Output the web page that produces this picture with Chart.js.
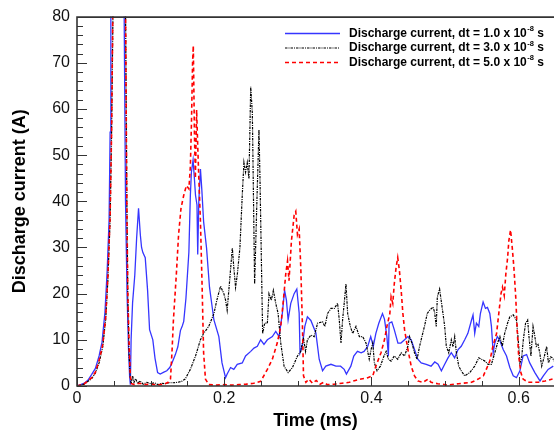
<!DOCTYPE html>
<html>
<head>
<meta charset="utf-8">
<script src="https://cdn.jsdelivr.net/npm/chart.js@4/dist/chart.umd.min.js"></script>
<style>
html,body{margin:0;padding:0;background:#fff;}
canvas{display:block;}
</style>
</head>
<body>
<canvas id="c" width="554" height="434"></canvas>
<script>
// ---- data: [time (ms), current (A)] ----
const seriesLabels = ["1.0", "3.0", "5.0"];
const xTickValues = [0, 0.2, 0.4, 0.6];
const xTickLabels = ["0", "0.2", "0.4", "0.6"];
const yTickValues = [0, 10, 20, 30, 40, 50, 60, 70, 80];

const blueData = [
[0,0],[0.005,0.3],[0.01,0.6],[0.015,1.3],[0.02,2.5],[0.025,3.8],[0.03,6.5],[0.034,9.5],[0.038,16],[0.041,25],[0.0436,36],[0.045,55],[0.046,80],[0.048,120],[0.055,300],[0.062,120],[0.0641,80],[0.0659,40],[0.068,20],[0.070,8],[0.0715,2],[0.0725,0.3],
[0.0735,10],[0.0755,18],[0.0785,24],[0.081,32],[0.0836,38.5],[0.086,32.8],[0.0877,30],[0.0895,28.9],[0.0927,27.8],[0.0959,20.7],[0.0986,12.2],[0.103,10],[0.106,6],[0.1095,2.9],[0.113,2.6],[0.118,3],[0.122,3.3],[0.126,4],[0.129,5],[0.1336,6.8],[0.137,8.5],[0.1405,12],[0.143,13],[0.145,14],[0.148,19],[0.152,29],[0.154,41.3],[0.1554,46.3],[0.1577,49],[0.1595,44.9],[0.161,41.3],[0.163,39.2],[0.164,28.5],[0.1655,40],[0.1677,47],[0.1695,42.7],[0.172,35.6],[0.176,29.9],[0.180,21.4],[0.186,14.3],[0.1927,10.7],[0.197,5],[0.2018,1.8],
[0.204,2.6],[0.2086,4],[0.213,3.6],[0.2177,4.7],[0.2245,5],[0.229,6.5],[0.236,7.5],[0.2404,8.2],[0.245,8.6],[0.2495,10],[0.254,9],[0.2586,10],[0.2654,10.7],[0.27,11.8],[0.2745,10.7],[0.279,15.8],[0.282,20.7],[0.2845,18.6],[0.2868,14.3],[0.2904,17.9],[0.295,20],[0.2986,21],[0.3018,15.8],[0.303,7.2],[0.306,8.6],[0.3095,12.9],[0.313,15],[0.3177,14.2],[0.3245,11.5],[0.329,5.8],[0.3336,3.3],[0.338,4.3],[0.345,4.7],[0.3517,4.3],[0.358,4.3],[0.363,3.6],[0.366,2.6],[0.372,4.3],[0.376,6.5],[0.381,7.5],[0.386,7.2],[0.39,7.5],[0.395,8.6],[0.399,10.7],[0.4025,8.6],[0.406,11.4],[0.41,13.6],[0.415,15.7],[0.4177,14.5],[0.421,10.7],[0.423,6.5],[0.424,13.6],[0.4277,13.9],[0.431,12.2],[0.436,9.3],[0.44,9.3],[0.445,10],[0.4495,10.7],[0.454,10],[0.4585,7.9],[0.463,5.8],[0.4676,5],[0.4744,4.7],[0.481,4.3],
[0.486,5.2],[0.4905,4.7],[0.495,3.3],[0.4995,4.7],[0.504,6.1],[0.5085,7.2],[0.513,6.1],[0.5177,7.9],[0.522,8.6],[0.5267,10],[0.531,11.4],[0.536,14.3],[0.538,15.4],[0.5403,11.4],[0.5426,13.6],[0.5458,12.9],[0.548,15.7],[0.5517,18.2],[0.5549,16.8],[0.5576,17],[0.5608,15.7],[0.563,12.9],[0.5654,7.2],[0.5676,9.3],[0.571,10.7],[0.574,10],[0.579,7.9],[0.5835,6.5],[0.588,4],[0.5926,2.2],[0.597,1.8],[0.6017,3.3],[0.606,6.5],[0.6108,6.8],[0.615,5],[0.622,2.9],[0.629,1.1],[0.6335,2.2],[0.640,3.6],[0.647,4.3]
];

const blackData = [
[0,0],[0.01,0.4],[0.02,1.6],[0.025,2.8],[0.03,5],[0.035,8.5],[0.039,14.5],[0.042,23],[0.045,36],[0.047,55],[0.0488,80],[0.051,120],[0.057,300],[0.064,120],[0.066,80],[0.0677,40],[0.069,20],[0.0705,8],[0.072,2.5],[0.0735,0.5],
[0.0755,2.2],[0.0775,0.8],[0.0795,1.6],[0.0825,0.5],[0.0855,1.1],[0.09,0.4],[0.095,0.8],[0.1,0.5],[0.105,0.7],[0.11,0.3],[0.115,0.6],[0.12,0.5],[0.125,0.7],[0.131,0.7],[0.137,0.8],[0.142,1.0],[0.147,1.5],[0.154,3.6],[0.161,6.5],[0.1677,10],[0.172,11.4],[0.179,12.9],[0.186,15.7],[0.19,18.6],[0.195,21.6],[0.1995,20],[0.2018,18.6],[0.204,16.4],[0.2077,23.5],[0.211,29.9],[0.213,25.7],[0.2154,21.4],[0.2177,24],[0.2213,29.9],[0.2245,41.3],[0.2268,48.4],[0.229,46.3],[0.2313,48.4],[0.2336,44.9],[0.236,64.8],[0.2382,59.1],[0.2397,41.3],[0.2413,22.1],[0.244,37.8],[0.2472,55.5],[0.2486,44.9],[0.2505,27.1],[0.2522,11.4],[0.255,13.6],[0.2586,13.6],[0.2608,20],[0.264,18.6],[0.2668,20.7],[0.27,17.9],[0.2732,15.7],[0.2768,9.3],[0.2813,4.3],[0.2868,2.9],[0.2927,4],[0.2995,6.5],[0.304,7.5],
[0.3075,10.5],[0.3105,7.5],[0.313,10],[0.3177,11],[0.3222,10.7],[0.3268,13.6],[0.3336,13.9],[0.3368,12.9],[0.3404,15.7],[0.345,16.8],[0.3495,16.8],[0.354,17.9],[0.3563,14.3],[0.3586,9.3],[0.3608,14.3],[0.363,17.9],[0.3654,22.1],[0.3677,15.7],[0.3713,12.9],[0.3745,11.4],[0.379,12.9],[0.3836,10.7],[0.3881,10.7],[0.3926,9.3],[0.397,5.8],[0.3995,7.9],[0.4018,9.3],[0.404,5],[0.4076,3.3],[0.4122,4.3],[0.417,6.5],[0.42,7.5],[0.4231,5.8],[0.4267,5.4],[0.431,6.5],[0.4357,5.8],[0.4404,7.2],[0.445,6.5],[0.4495,8.6],[0.4517,10.7],[0.455,9.3],[0.4585,7.2],[0.462,5.8],[0.4654,8.6],[0.4686,10.7],[0.472,12.9],[0.4758,15.7],[0.479,16.4],[0.4836,17.1],[0.4858,16],[0.488,12.9],[0.4895,19.3],[0.4926,21],[0.495,18.2],[0.4972,15.7],[0.4995,12.9],[0.5017,8.6],[0.505,7.2],[0.5085,10],[0.5108,8.5],[0.5131,10.7],[0.5154,7.2],[0.5186,4.3],[0.522,3.3],[0.5267,2.2],[0.5335,2.9],[0.5403,4.3],[0.5458,6.1],[0.5495,5.8],[0.554,5.4],[0.5585,4.7],[0.563,4.7],[0.5676,7.2],[0.5713,9.3],[0.5745,10.7],[0.5777,8.6],[0.581,11.4],[0.5849,13.6],[0.588,15],[0.5926,15.4],[0.597,14.3],[0.5994,10],[0.6017,5],[0.604,6],[0.6063,10],[0.6094,13.6],[0.6122,14.3],[0.614,10.7],[0.6167,6.5],[0.6195,12.9],[0.6217,11],[0.624,8.6],[0.6263,9],[0.6286,7.2],[0.6313,4.3],[0.635,6.5],[0.638,8.6],[0.6404,5],[0.6435,6.3],[0.6458,6.1],[0.65,5]
];

const redData = [
[0,0],[0.01,0.5],[0.02,1.8],[0.025,3],[0.03,5.5],[0.035,9],[0.039,15],[0.042,24],[0.045,37],[0.047,55],[0.0486,80],[0.051,120],[0.057,300],[0.064,120],[0.066,80],[0.0677,40],[0.069,20],[0.071,8],[0.0725,2],[0.074,0.5],
[0.078,0.3],[0.085,0.6],[0.092,0.3],[0.1,0.4],[0.11,0.2],[0.118,0.4],[0.124,0.8],[0.127,1.5],[0.129,7.2],[0.131,14.3],[0.135,24.3],[0.138,32.8],[0.1413,38.5],[0.145,41.3],[0.1486,43.4],[0.152,42.7],[0.154,47.5],[0.1555,57],[0.157,70],[0.158,73.7],[0.1595,55],[0.1608,45],[0.1625,59.8],[0.164,52],[0.1655,45],[0.1677,35.6],[0.17,21.4],[0.172,7.2],[0.1745,1.5],[0.179,0.3],[0.19,0.2],[0.2,0.3],[0.21,0.2],[0.22,0.3],[0.23,0.4],[0.24,0.6],[0.2495,1],[0.2586,3.6],[0.2654,5.8],[0.272,9.3],[0.2768,12.9],[0.2804,18.6],[0.2836,24.3],[0.286,27.1],[0.288,22.8],[0.2913,31.4],[0.295,37],[0.2972,37.8],[0.2995,32.8],[0.3018,34],[0.304,25.7],[0.3063,12.9],[0.3077,2.2],[0.311,0.8],[0.315,1.5],[0.32,0.6],[0.325,1.2],[0.33,0.4],[0.335,0.8],[0.34,0.3],[0.35,0.4],[0.36,0.6],[0.37,0.8],[0.378,1.2],[0.386,1.5],[0.395,1.8],[0.4018,2.2],[0.406,4.3],[0.413,7.2],[0.4177,10],[0.421,12.9],[0.423,14.3],[0.425,15.7],[0.4267,19.3],[0.429,17.9],[0.431,22.1],[0.4335,25.7],[0.4357,27.8],[0.438,25],[0.4404,20.7],[0.4427,15.7],[0.445,12.2],[0.4495,7.9],[0.454,4.3],[0.4585,2.2],[0.463,1.1],[0.47,0.8],[0.477,1.5],[0.481,0.8],[0.49,0.5],[0.504,0.2],[0.518,0.5],[0.536,0.8],[0.545,1.5],[0.552,2.2],[0.556,3.6],[0.5608,5.4],[0.565,8.6],[0.57,11.4],[0.573,15.7],[0.576,20],[0.578,21.4],[0.5804,19.6],[0.5826,24.3],[0.585,27.8],[0.5866,31.4],[0.589,33.8],[0.5913,29.9],[0.5935,25.7],[0.596,19.3],[0.598,12.2],[0.600,6.5],[0.603,2.9],[0.606,1.5],[0.613,0.8],[0.627,0.8],[0.636,1.1],[0.646,1.5]
];

const toXY = arr => arr.map(p => ({x: p[0], y: p[1]}));
const FONT = '"Liberation Sans", Arial, Helvetica, sans-serif';

const styles = [
  {color: '#3535ff', dash: [], width: 1.3},
  {color: '#000000', dash: [2.5, 1, 1, 1], width: 1.2},
  {color: '#ff0000', dash: [4, 3], width: 1.6}
];

const framePlugin = {
  id: 'frame',
  afterDatasetsDraw(chart) {
    const {ctx, chartArea: a, scales: {x, y}} = chart;
    ctx.save();
    ctx.strokeStyle = '#333';
    ctx.lineWidth = 1;
    ctx.setLineDash([]);
    // x ticks (inward)
    for (let k = 0; k * 0.05 <= 0.648 + 1e-9; k++) {
      const v = k * 0.05;
      const px = Math.round(x.getPixelForValue(v)) + 0.5;
      const len = (k % 4 === 0) ? 9 : 5;
      ctx.beginPath(); ctx.moveTo(px, a.bottom); ctx.lineTo(px, a.bottom - len); ctx.stroke();
    }
    // y ticks (inward)
    for (let k = 0; k <= 40; k++) {
      const v = k * 2;
      const py = Math.round(y.getPixelForValue(v)) + 0.5;
      const len = (k % 5 === 0) ? 10 : 6;
      ctx.beginPath(); ctx.moveTo(a.left, py); ctx.lineTo(a.left + len, py); ctx.stroke();
    }
    // axes and top frame line
    ctx.lineWidth = 1.6;
    ctx.strokeStyle = '#333';
    ctx.beginPath();
    ctx.moveTo(a.right, a.top + 0.5); ctx.lineTo(a.left, a.top + 0.5);
    ctx.lineTo(a.left, a.bottom); ctx.lineTo(a.right, a.bottom);
    ctx.stroke();
    ctx.restore();
  },
  afterDraw(chart) {
    const ctx = chart.ctx;
    ctx.save();
    const x0 = 285, x1 = 340, tx = 349;
    const rows = [33.5, 48, 62.5];
    chart.data.datasets.forEach((ds, i) => {
      const yy = rows[i];
      ctx.strokeStyle = ds.borderColor;
      ctx.lineWidth = ds.borderWidth;
      ctx.setLineDash(ds.borderDash || []);
      ctx.beginPath(); ctx.moveTo(x0, yy); ctx.lineTo(x1, yy); ctx.stroke();
      ctx.setLineDash([]);
      ctx.fillStyle = '#000';
      ctx.textBaseline = 'middle';
      ctx.textAlign = 'left';
      ctx.font = 'bold 12px ' + FONT;
      const main = 'Discharge current, dt = ' + seriesLabels[i] + ' x 10';
      ctx.fillText(main, tx, yy);
      let cx = tx + ctx.measureText(main).width;
      ctx.font = 'bold 7.5px ' + FONT;
      ctx.fillText('-8', cx + 0.5, yy - 4.5);
      cx += ctx.measureText('-8').width + 0.5;
      ctx.font = 'bold 12px ' + FONT;
      ctx.fillText(' s', cx, yy);
    });
    ctx.restore();
  }
};

const datasets = [blueData, blackData, redData].map((d, i) => ({
  label: 'Discharge current, dt = ' + seriesLabels[i] + ' x 10^-8 s',
  data: toXY(d),
  borderColor: styles[i].color,
  borderDash: styles[i].dash,
  borderWidth: styles[i].width,
  pointRadius: 0,
  fill: false,
  tension: 0,
  order: 2 - i
}));

new Chart(document.getElementById('c'), {
  type: 'line',
  data: {datasets},
  options: {
    responsive: false,
    animation: false,
    devicePixelRatio: 1,
    parsing: false,
    layout: {padding: {top: 12, right: 0, bottom: 0, left: 0}},
    plugins: {legend: {display: false}, tooltip: {enabled: false}},
    scales: {
      x: {
        type: 'linear',
        min: 0, max: 0.648,
        grid: {display: false, drawTicks: false},
        border: {display: false},
        afterFit: s => { s.height = 48; },
        afterBuildTicks: s => { s.ticks = xTickValues.map(v => ({value: v})); },
        ticks: {
          padding: 3,
          color: '#111',
          font: {family: FONT, size: 16},
          maxRotation: 0,
          autoSkip: false,
          callback: (v) => xTickLabels[xTickValues.indexOf(v)] ?? ''
        },
        title: {display: true, text: 'Time (ms)', color: '#000',
          font: {family: FONT, size: 18, weight: 'bold'}, padding: {top: 0, bottom: 2}}
      },
      y: {
        type: 'linear',
        min: 0, max: 80,
        grid: {display: false, drawTicks: false},
        border: {display: false},
        afterFit: s => { s.width = 77; },
        afterBuildTicks: s => { s.ticks = yTickValues.map(v => ({value: v})); },
        ticks: {
          padding: 7,
          color: '#111',
          font: {family: FONT, size: 16},
          autoSkip: false,
          callback: v => String(v)
        },
        title: {display: true, text: 'Discharge current (A)', color: '#000',
          font: {family: FONT, size: 18, weight: 'bold'}, padding: {top: 9, bottom: 0}}
      }
    }
  },
  plugins: [framePlugin]
});
</script>
</body>
</html>
